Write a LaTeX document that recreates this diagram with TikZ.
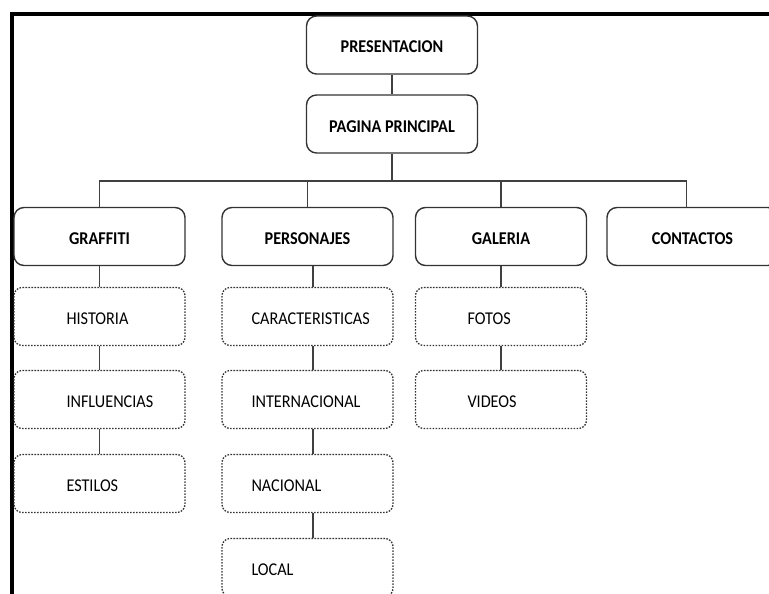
\documentclass[tikz,border=0pt]{standalone}
\usepackage{fontspec}
\setmainfont{Carlito}[FakeStretch=0.9]
\tikzset{box/.style = {draw=black!80, line width=1.4pt, rounded corners=10pt, minimum width=171pt, minimum height=58pt, inner sep=0pt, text height=16pt, text depth=0pt, font=\fontsize{18}{20}\selectfont\bfseries}}
\tikzset{sub/.style = {draw=black!80, line width=1.3pt, dash pattern=on 1.6pt off 1.4pt, rounded corners=8pt, minimum height=58pt, inner sep=0pt, text width=171pt, align=left, text height=16pt, text depth=0pt, font=\fontsize{18}{20}\selectfont, execute at begin node={\noindent\hspace*{#1}}}}
\tikzset{link/.style = {draw=black!75, line width=1.3pt}}

\begin{document}
\begin{tikzpicture}[x=1pt, y=-1pt]
      \useasboundingbox (0,0) rectangle (769,594);
      \draw [line width=4pt] (12,594) -- (12,14) -- (769,14);
      \node [box] (pres) at (392,45) {PRESENTACION};
      \node [box] (princ) at (392,124) {PAGINA PRINCIPAL};
      \coordinate (bus) at (392,181);
      \node [box] (graf) at (99.5,236.5) {GRAFFITI};
      \node [box] (pers) at (307.5,236.5) {PERSONAJES};
      \node [box] (gal) at (501,236.5) {GALERIA};
      \node [box] (cont) at (692.5,236.5) {CONTACTOS};
      \node [sub=52.5pt] (hist) at (99.5,316.5) {HISTORIA};
      \node [sub=52.5pt] (infl) at (99.5,399.5) {INFLUENCIAS};
      \node [sub=52.5pt] (esti) at (99.5,483.5) {ESTILOS};
      \node [sub=29.5pt] (carac) at (307.5,316.5) {CARACTERISTICAS};
      \node [sub=29.5pt] (inter) at (307.5,399.5) {INTERNACIONAL};
      \node [sub=29.5pt] (nac) at (307.5,483.5) {NACIONAL};
      \node [sub=29.5pt] (loc) at (307.5,567.5) {LOCAL};
      \node [sub=52pt] (fot) at (501,316.5) {FOTOS};
      \node [sub=52pt] (vid) at (501,399.5) {VIDEOS};
      \draw [link] (pres) -- (princ);
      \draw [link] (princ) -- (bus);
      \draw [link] (graf.north) |- (bus) -| ([xshift=-6pt]cont.north);
      \draw [link] (pers.north) -- (pers.north |- bus);
      \draw [link] (gal.north) -- (gal.north |- bus);
      \foreach \a/\b in {graf/hist, hist/infl, infl/esti, gal/fot, fot/vid}
        \draw [link] (\a) -- (\b);
      \foreach \a/\b in {pers/carac, carac/inter, inter/nac, nac/loc}
        \draw [link] ([xshift=5.5pt]\a.south) -- ([xshift=5.5pt]\b.north);
\end{tikzpicture}
\end{document}
